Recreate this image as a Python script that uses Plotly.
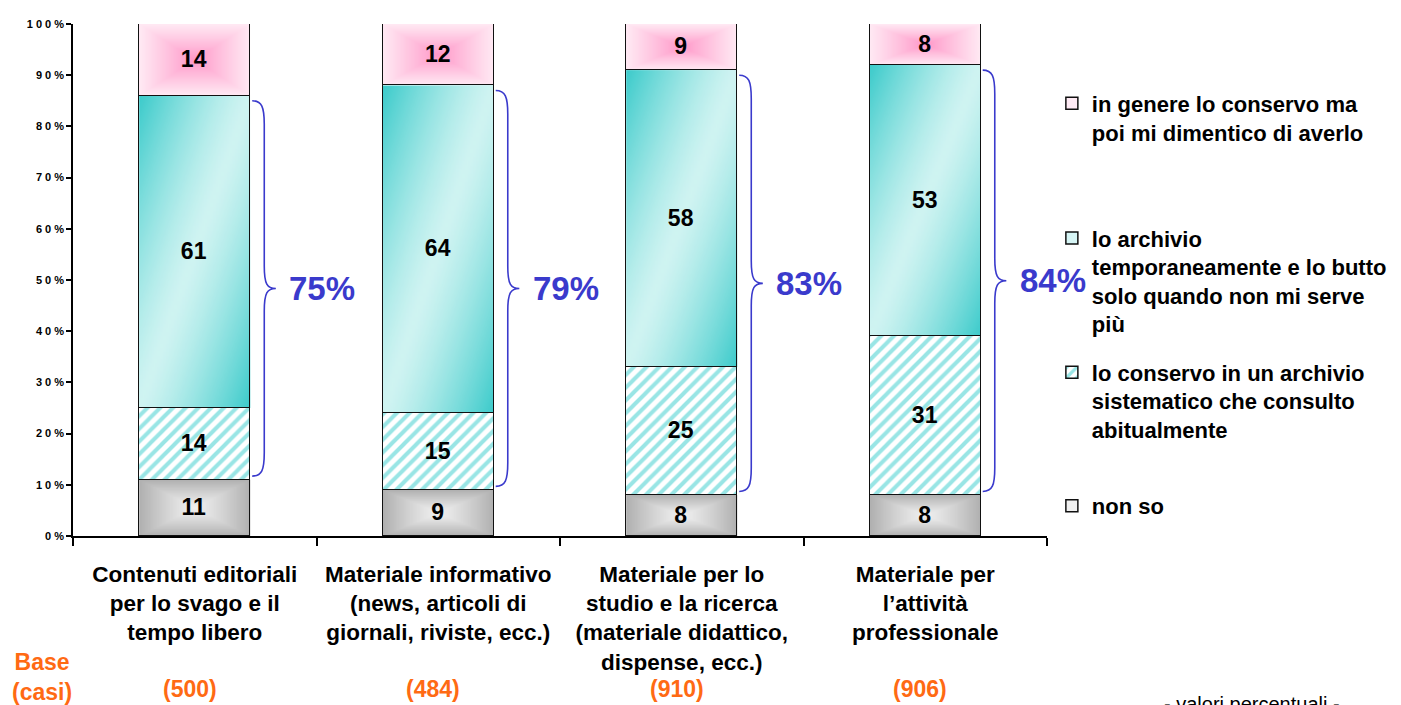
import base64
import struct
import zlib

import plotly.graph_objects as go

# ---------------- data ----------------
categories = [
    "Contenuti editoriali<br>per lo svago e il<br>tempo libero",
    "Materiale informativo<br>(news, articoli di<br>giornali, riviste, ecc.)",
    "Materiale per lo<br>studio e la ricerca<br>(materiale didattico,<br>dispense, ecc.)",
    "Materiale per<br>l\u2019attivit\u00e0<br>professionale",
]
base_counts = ["(500)", "(484)", "(910)", "(906)"]

non_so = [11, 9, 8, 8]
sistematico = [14, 15, 25, 31]
temporaneo = [61, 64, 58, 53]
dimentico = [14, 12, 9, 8]

name_non_so = "non so"
name_sistematico = "lo conservo in un archivio<br>sistematico che consulto<br>abitualmente"
name_temporaneo = "lo archivio<br>temporaneamente e lo butto<br>solo quando non mi serve<br>più"
name_dimentico = "in genere lo conservo ma<br>poi mi dimentico di averlo"

y_tick_values = [0, 10, 20, 30, 40, 50, 60, 70, 80, 90, 100]
y_tick_labels = ["0 %", "1 0 %", "2 0 %", "3 0 %", "4 0 %", "5 0 %",
                 "6 0 %", "7 0 %", "8 0 %", "9 0 %", "1 0 0 %"]

# ---------------- style ----------------
FONT = "Liberation Sans"
BLUE = "#3a3acc"
ORANGE = "#ff6a13"
BAR_W = 0.456
TINT_A = 0.2

x_pos = list(range(len(categories)))


# ---------------- gradient textures (tiny PNGs) ----------------
def png_uri(w, h, fn):
    rows = []
    for j in range(h):
        row = bytearray([0])
        for i in range(w):
            u = (i + 0.5) / w * 2 - 1
            v = (j + 0.5) / h * 2 - 1
            row.extend(fn(u, v))
        rows.append(bytes(row))
    raw = b"".join(rows)

    def chunk(tag, data):
        c = struct.pack(">I", len(data)) + tag + data
        return c + struct.pack(">I", zlib.crc32(tag + data) & 0xFFFFFFFF)

    png = (b"\x89PNG\r\n\x1a\n"
           + chunk(b"IHDR", struct.pack(">IIBBBBB", w, h, 8, 2, 0, 0, 0))
           + chunk(b"IDAT", zlib.compress(raw, 9))
           + chunk(b"IEND", b""))
    return "data:image/png;base64," + base64.b64encode(png).decode()


def lerp(a, b, t):
    return [a[k] + (b[k] - a[k]) * t for k in range(3)]


def under_tint(col, tint):
    # colour to put under a bar filled with `tint` at alpha TINT_A so the result is `col`
    return bytes(max(0, min(255, round((col[k] - TINT_A * tint[k]) / (1 - TINT_A))))
                 for k in range(3))


PINK_T = (255, 153, 204)
TEAL_T = (51, 204, 204)
GRAY_T = (180, 180, 180)


def pink_fn(u, v):
    t = max(abs(u), abs(v))
    return under_tint(lerp((255, 150, 200), (255, 234, 244), t ** 0.9), PINK_T)


def gray_fn(u, v):
    t = max(abs(u), abs(v))
    return under_tint(lerp((240, 240, 240), (176, 176, 176), t ** 1.2), GRAY_T)


def teal_fn(u, v):
    f = min(1.0, abs(u + v) / 2)
    return under_tint(lerp((208, 244, 242), (60, 203, 203), f ** 1.3), TEAL_T)


tex_pink = png_uri(40, 40, pink_fn)
tex_gray = png_uri(40, 40, gray_fn)
tex_teal = png_uri(40, 80, teal_fn)


def rgba(c, a):
    return f"rgba({c[0]},{c[1]},{c[2]},{a})"


fig = go.Figure()


def add_bar(vals, name, color, legend, pattern=None):
    marker = dict(color=color, line=dict(color="#111111", width=1.5))
    if pattern:
        marker["pattern"] = pattern
    fig.add_trace(go.Bar(
        x=x_pos, y=vals, name=name, width=BAR_W, marker=marker,
        texttemplate="%{y}", textposition="inside", insidetextanchor="middle",
        textangle=0, constraintext="none",
        insidetextfont=dict(family=FONT, size=23, color="black", weight="bold"),
        legend=legend, hoverinfo="skip", showlegend=True,
    ))


add_bar(non_so, name_non_so, rgba(GRAY_T, TINT_A), "legend4")
add_bar(sistematico, name_sistematico, "white", "legend3",
        pattern=dict(shape="/", fgcolor="#33cccc", bgcolor="white", size=9, solidity=0.45))
add_bar(temporaneo, name_temporaneo, rgba(TEAL_T, TINT_A), "legend2")
add_bar(dimentico, name_dimentico, rgba(PINK_T, TINT_A), "legend")

# gradient images placed under each gradient segment (positions from the data)
images = []
half = BAR_W / 2
for i in x_pos:
    segs = [
        (0, non_so[i], tex_gray),
        (non_so[i] + sistematico[i], temporaneo[i], tex_teal),
        (non_so[i] + sistematico[i] + temporaneo[i], dimentico[i], tex_pink),
    ]
    for base, val, tex in segs:
        images.append(dict(
            source=tex, xref="x", yref="y", x=i - half, y=base + val,
            sizex=BAR_W, sizey=val, xanchor="left", yanchor="top",
            sizing="stretch", layer="below",
        ))

# ---------------- braces + totals ----------------
shapes = []
annotations = []
for i in x_pos:
    bot = non_so[i] + 0.7
    top = non_so[i] + sistematico[i] + temporaneo[i] - 1.0
    mid = (bot + top) / 2
    e = i + half
    xs = e + 0.008       # start/end at bar edge
    xv = e + 0.0575      # vertical stroke
    xt = e + 0.105       # tip
    r_end = 4.6
    r_mid = 4.4
    path = (
        f"M{xs},{top} "
        f"C{xv - 0.01},{top} {xv},{top - 1.2} {xv},{top - r_end} "
        f"L{xv},{mid + r_mid} "
        f"C{xv},{mid + 0.8} {xv + 0.012},{mid} {xt},{mid} "
        f"C{xv + 0.012},{mid} {xv},{mid - 0.8} {xv},{mid - r_mid} "
        f"L{xv},{bot + r_end} "
        f"C{xv},{bot + 1.2} {xv - 0.01},{bot} {xs},{bot}"
    )
    shapes.append(dict(type="path", path=path, xref="x", yref="y",
                       line=dict(color=BLUE, width=1.6)))
    total = sistematico[i] + temporaneo[i]
    annotations.append(dict(
        x=e + 0.152, y=mid, xref="x", yref="y", xanchor="left", yanchor="middle",
        text=f"{total}%", showarrow=False,
        font=dict(family=FONT, size=33, color=BLUE, weight="bold"),
    ))
    annotations.append(dict(
        x=i - 0.02, y=-0.299, xref="x", yref="paper", xanchor="center", yanchor="middle",
        text=base_counts[i], showarrow=False,
        font=dict(family=FONT, size=23, color=ORANGE, weight="bold"),
    ))

annotations.append(dict(
    x=-0.0318, y=-0.276, xref="paper", yref="paper", xanchor="center", yanchor="middle",
    text="Base<br>(casi)", showarrow=False,
    font=dict(family=FONT, size=23, color=ORANGE, weight="bold"),
))
annotations.append(dict(
    x=1.2105, y=-0.329, xref="paper", yref="paper", xanchor="center", yanchor="middle",
    text="- valori percentuali -", showarrow=False,
    font=dict(family=FONT, size=20, color="black"),
))

legend_font = dict(family=FONT, size=22, color="black", weight="bold")


def legend_cfg(y):
    return dict(x=1.005, y=y, xanchor="left", yanchor="top", font=legend_font,
                bgcolor="rgba(0,0,0,0)", valign="top", itemwidth=30,
                traceorder="normal", visible=True)


fig.update_layout(
    width=1401, height=705,
    # the page adds an 8px body margin, so the plot area is shifted up/left by 8px
    margin=dict(l=65, r=362, t=10, b=177, pad=0),
    paper_bgcolor="white", plot_bgcolor="rgba(0,0,0,0)",
    barmode="stack", bargap=0, showlegend=True,
    font=dict(family=FONT, color="black"),
    shapes=shapes, annotations=annotations, images=images,
    legend=legend_cfg(0.8856),
    legend2=legend_cfg(0.6227),
    legend3=legend_cfg(0.3605),
    legend4=legend_cfg(0.0998),
    xaxis=dict(
        range=[-0.5, 3.5], tickmode="array", tickvals=x_pos, ticktext=categories,
        ticks="", showline=True, linecolor="black", linewidth=1.5,
        showgrid=False, zeroline=False,
        tickfont=dict(family=FONT, size=22.5, color="black", weight="bold"),
        ticklabelstandoff=17,
        minor=dict(tickvals=[-0.5, 0.5, 1.5, 2.5, 3.5], ticks="outside",
                   ticklen=8, tickwidth=1.5, tickcolor="black"),
    ),
    yaxis=dict(
        range=[0, 100], tickmode="array", tickvals=y_tick_values, ticktext=y_tick_labels,
        ticks="outside", ticklen=5, tickwidth=1.5, tickcolor="black",
        showline=True, linecolor="black", linewidth=1.5,
        showgrid=False, zeroline=False,
        tickfont=dict(family=FONT, size=11, color="black", weight="bold"),
    ),
)

fig.write_html("out.html")
